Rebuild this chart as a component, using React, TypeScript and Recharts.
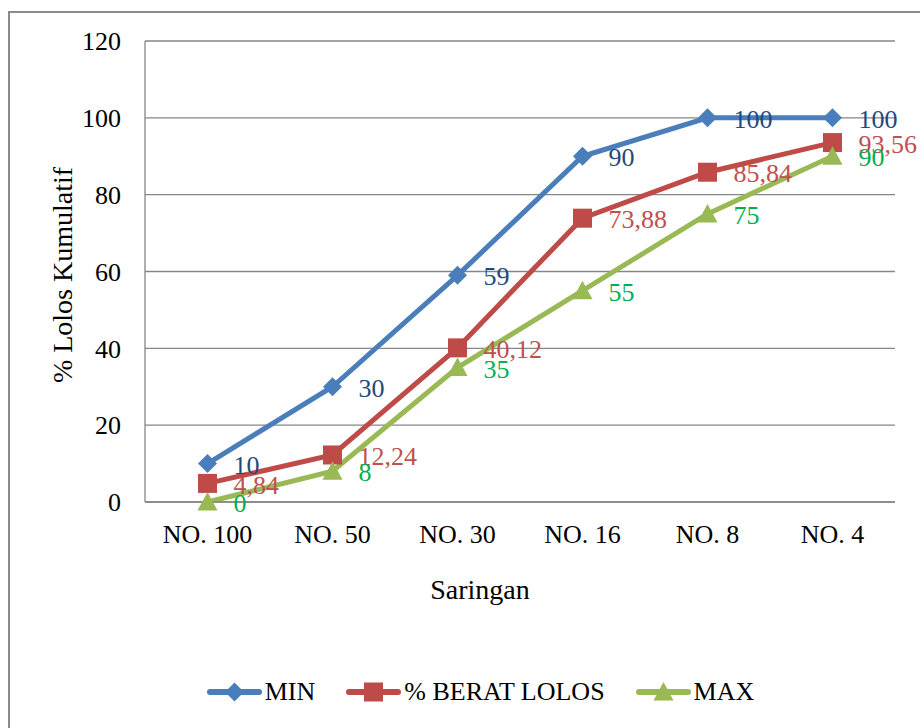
import React from 'react';
import { LineChart, Line, XAxis, YAxis, CartesianGrid, Legend, LabelList } from 'recharts';

const categories = ['NO. 100', 'NO. 50', 'NO. 30', 'NO. 16', 'NO. 8', 'NO. 4'];
const minValues = [10, 30, 59, 90, 100, 100];
const lolosValues = [4.84, 12.24, 40.12, 73.88, 85.84, 93.56];
const maxValues = [0, 8, 35, 55, 75, 90];
const yTicks = [0, 20, 40, 60, 80, 100, 120];

const data = categories.map((c, i) => ({ cat: c, min: minValues[i], lolos: lolosValues[i], max: maxValues[i] }));

const FONT = '"Liberation Serif", "Times New Roman", serif';
const GRID = '#868686';

const series = [
  { key: 'min', name: 'MIN', color: '#4A7EBB', labelColor: '#1F497D', shape: 'diamond' },
  { key: 'lolos', name: '% BERAT LOLOS', color: '#BE4B48', labelColor: '#C0504D', shape: 'square' },
  { key: 'max', name: 'MAX', color: '#98B954', labelColor: '#00B050', shape: 'triangle' },
];

function Marker({ cx, cy, shape, color }: any) {
  if (cx == null || cy == null) return null;
  if (shape === 'diamond') {
    const s = 9.5;
    return <polygon points={`${cx},${cy - s} ${cx + s},${cy} ${cx},${cy + s} ${cx - s},${cy}`} fill={color} />;
  }
  if (shape === 'square') {
    const s = 9.5;
    return <rect x={cx - s} y={cy - s} width={2 * s} height={2 * s} fill={color} />;
  }
  return <polygon points={`${cx},${cy - 10} ${cx + 10},${cy + 8.5} ${cx - 10},${cy + 8.5}`} fill={color} />;
}

const fmt = (v: any) => String(v).replace('.', ',');

function makeLabel(color: string) {
  return (props: any) => {
    const { x, y, value } = props;
    return (
      <text x={x + 26} y={y + 1} dy="0.35em" fill={color} fontSize={26} fontFamily={FONT} textAnchor="start">
        {fmt(value)}
      </text>
    );
  };
}

function LegendContent() {
  return (
    <div style={{ display: 'flex', justifyContent: 'center', alignItems: 'center', height: 30, fontFamily: FONT, fontSize: 26, color: '#000', paddingRight: 0 }}>
      {series.map((s, i) => (
        <div key={s.key} style={{ display: 'flex', alignItems: 'center', marginRight: i < series.length - 1 ? 30 : 0 }}>
          <svg width={57} height={26} style={{ display: 'block' }}>
            <line x1={4} y1={13} x2={53} y2={13} stroke={s.color} strokeWidth={6} strokeLinecap="round" />
            <Marker cx={28.5} cy={13} shape={s.shape} color={s.color} />
          </svg>
          <span style={{ marginLeft: 2, whiteSpace: 'nowrap' }}>{s.name}</span>
        </div>
      ))}
    </div>
  );
}

export default function App() {
  return (
    <div style={{ position: 'absolute', left: 0, top: 0, width: 920, height: 728, overflow: 'hidden', background: '#fff' }}>
      <div style={{ position: 'absolute', left: 8, top: 11, width: 940, height: 740, border: '2px solid #8a8a8a', boxSizing: 'border-box' }} />
      <div style={{ position: 'absolute', left: 0, top: 0 }}>
        <LineChart width={920} height={728} data={data} margin={{ top: 41, right: 25, left: 0, bottom: 21 }}>
          <CartesianGrid vertical={false} stroke={GRID} strokeWidth={1.3} />
          <XAxis
            dataKey="cat"
            height={175}
            padding={{ left: 62.5, right: 62.5 }}
            axisLine={{ stroke: GRID, strokeWidth: 1.3 }}
            tickLine={false}
            tickMargin={16.5}
            tick={{ fill: '#000', fontSize: 26, fontFamily: FONT }}
            interval={0}
            label={{
              content: () => (
                <text x={480} y={599} textAnchor="middle" fontSize={28} fontFamily={FONT} fill="#000">Saringan</text>
              ),
            }}
          />
          <YAxis
            width={145}
            domain={[0, 120]}
            ticks={yTicks}
            axisLine={{ stroke: GRID, strokeWidth: 1.3 }}
            tickLine={false}
            tickMargin={18}
            tick={{ fill: '#000', fontSize: 26, fontFamily: FONT }}
            label={{
              content: () => (
                <text x={72} y={275} transform="rotate(-90 72 275)" textAnchor="middle" fontSize={28} fontFamily={FONT} fill="#000">% Lolos Kumulatif</text>
              ),
            }}
          />
          <Legend verticalAlign="bottom" wrapperStyle={{ height: 30, left: 30, width: 900 }} content={() => <LegendContent />} />
          {series.map((s) => (
            <Line
              key={s.key}
              type="linear"
              dataKey={s.key}
              name={s.name}
              stroke={s.color}
              strokeWidth={5}
              isAnimationActive={false}
              dot={(p: any) => <Marker key={`${s.key}-${p.index}`} cx={p.cx} cy={p.cy} shape={s.shape} color={s.color} />}
              activeDot={false}
            >
              <LabelList dataKey={s.key} content={makeLabel(s.labelColor)} />
            </Line>
          ))}
        </LineChart>
      </div>
    </div>
  );
}
